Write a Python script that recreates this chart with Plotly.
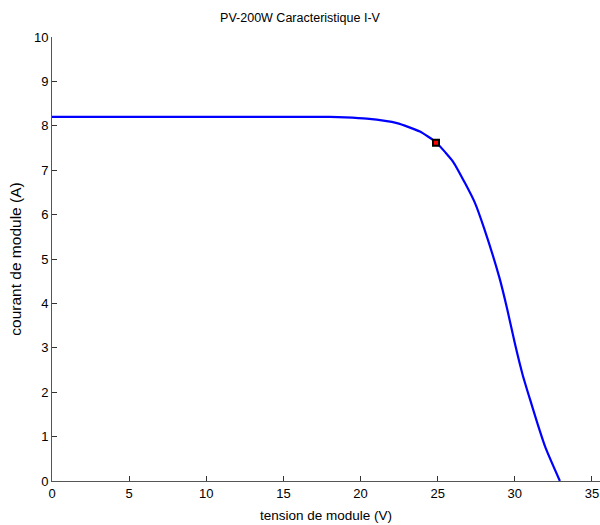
import plotly.graph_objects as go

voltage = [0, 5, 10, 15, 18.0, 19.0, 20.4, 22.36, 23.85, 24.89, 25.5, 26.0, 26.77, 27.42,
           28.0, 29.0, 29.5, 30.0, 30.5, 31.0, 31.5, 32.0, 32.92]
current = [8.2, 8.2, 8.2, 8.2, 8.2, 8.19, 8.16, 8.06, 7.87, 7.63, 7.40, 7.19, 6.71, 6.26,
           5.70, 4.58, 3.88, 3.10, 2.40, 1.82, 1.26, 0.74, 0.0]
mpp_v = [24.89]
mpp_i = [7.62]

x_ticks = [0, 5, 10, 15, 20, 25, 30, 35]
y_ticks = [0, 1, 2, 3, 4, 5, 6, 7, 8, 9, 10]

font = "Liberation Sans, Arial, sans-serif"

fig = go.Figure()
fig.add_trace(go.Scatter(x=voltage, y=current, mode="lines",
                         line=dict(color="#0000ff", width=2.2, shape="spline", smoothing=0.5),
                         showlegend=False, hoverinfo="skip"))
fig.add_trace(go.Scatter(x=mpp_v, y=mpp_i, mode="markers",
                         marker=dict(symbol="square", size=6, color="#ff0000",
                                     line=dict(color="#000000", width=2)),
                         showlegend=False))

fig.update_layout(
    width=600, height=525,
    margin=dict(l=52, r=0, t=37, b=44),
    paper_bgcolor="white", plot_bgcolor="white",
    font=dict(family=font, size=13, color="#000000"),
    title=dict(text="PV-200W Caracteristique I-V", x=0.5, xanchor="center",
               y=1 - 18 / 525, yanchor="middle", font=dict(size=12.5, family=font)),
    xaxis=dict(range=[0, 35.52], tickvals=x_ticks, ticks="inside", ticklen=5,
               tickcolor="#333333", showline=True, linecolor="#555555", linewidth=1,
               showgrid=False, zeroline=False, mirror=False, automargin=False,
               tickfont=dict(size=13),
               title=dict(text="tension de module (V)", standoff=10, font=dict(size=13.5))),
    yaxis=dict(range=[0, 10], tickvals=y_ticks, ticks="inside", ticklen=5,
               tickcolor="#333333", showline=True, linecolor="#555555", linewidth=1,
               showgrid=False, zeroline=False, mirror=False, automargin=False,
               tickfont=dict(size=13),
               title=dict(text="courant de module (A)", standoff=8, font=dict(size=15.5))),
)

fig.write_html("out.html", config={"displayModeBar": False},
               post_script="document.body.style.margin='0';document.body.style.overflow='hidden';")
